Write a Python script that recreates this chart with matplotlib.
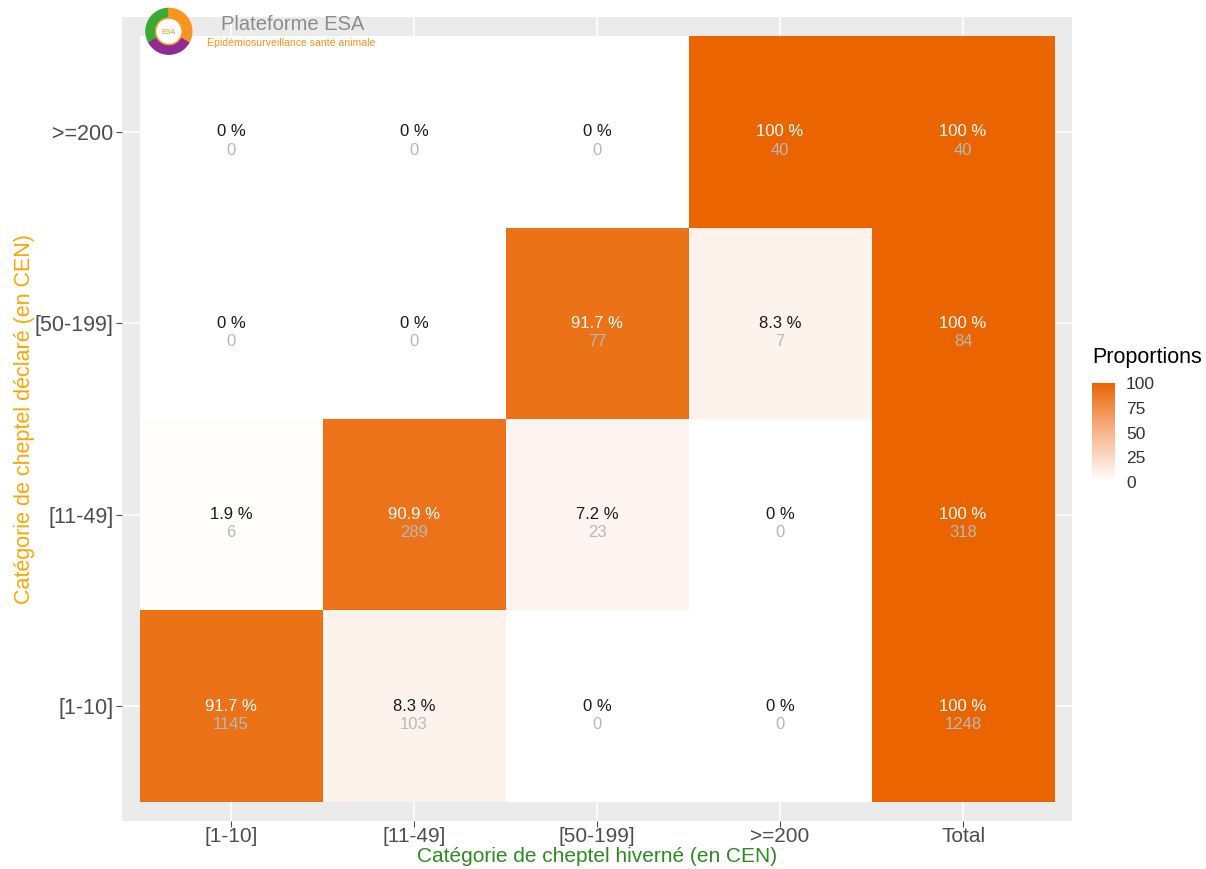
import numpy as np
import matplotlib
matplotlib.use("Agg")
import matplotlib.pyplot as plt
from matplotlib.colors import LinearSegmentedColormap
from matplotlib.patches import Rectangle, Wedge, Circle

plt.rcParams["font.family"] = ["Liberation Sans", "DejaVu Sans"]

# categories
col_labels = ["[1-10]", "[11-49]", "[50-199]", ">=200", "Total"]
row_labels = ["[1-10]", "[11-49]", "[50-199]", ">=200"]  # bottom -> top

# proportions (%) per row of declared herd
pct = [
    [91.7, 8.3, 0, 0, 100],
    [1.9, 90.9, 7.2, 0, 100],
    [0, 0, 91.7, 8.3, 100],
    [0, 0, 0, 100, 100],
]
# counts
counts = [
    [1145, 103, 0, 0, 1248],
    [6, 289, 23, 0, 318],
    [0, 0, 77, 7, 84],
    [0, 0, 0, 40, 40],
]

# dégradé blanc -> orange (approx. interpolation Lab de ggplot)
cmap = LinearSegmentedColormap.from_list(
    "esa", [(0, "#FFFFFF"), (0.5, "#F8B48E"), (1, "#EA6500")])

fig = plt.figure(figsize=(12.06, 8.69), dpi=100)
ax = fig.add_axes([0.1012, 0.0552, 0.7878, 0.9252])
ax.set_facecolor("#EBEBEB")

# grille façon ggplot
for i in range(len(col_labels)):
    ax.axvline(i + 1, color="white", lw=1.1, zorder=0)
for j in range(len(row_labels)):
    ax.axhline(j + 1, color="white", lw=1.1, zorder=0)

for j, row in enumerate(pct):
    for i, p in enumerate(row):
        ax.add_patch(Rectangle((i + 0.5, j + 0.5), 1, 1,
                               facecolor=cmap(p / 100), edgecolor="none", zorder=1))
        txt_col = "white" if p > 50 else "#1A1A1A"
        ax.text(i + 1, j + 1.0, f"{p:g} %", ha="center", va="center",
                fontsize=12, color=txt_col, zorder=3)
        ax.text(i + 1, j + 0.905, str(counts[j][i]), ha="center", va="center",
                fontsize=12, color="#B8B8B8", zorder=3)

ax.set_xlim(0.404, 5.596)
ax.set_ylim(0.4, 4.6)
ax.set_xticks(range(1, len(col_labels) + 1))
ax.set_xticklabels(col_labels)
ax.set_yticks(range(1, len(row_labels) + 1))
ax.set_yticklabels(row_labels)
ax.tick_params(length=4, width=0.8, color="#4D4D4D", labelcolor="#4D4D4D",
               labelsize=15.5, pad=2)
ax.tick_params(axis="x", labelsize=15, pad=0.5)
for s in ax.spines.values():
    s.set_visible(False)

ax.set_xlabel("Catégorie de cheptel hiverné (en CEN)", color="#2E8B22",
              fontsize=15)
ax.xaxis.set_label_coords(0.5, -0.0325)
ax.set_ylabel("Catégorie de cheptel déclaré (en CEN)", color="#FFA500",
              fontsize=15.5)
ax.yaxis.set_label_coords(-0.092, 0.5)

# légende (barre de couleur)
cax = fig.add_axes([0.9055, 0.4453, 0.019, 0.114])
grad = np.linspace(0, 100, 256).reshape(-1, 1)
cax.imshow(grad, aspect="auto", cmap=cmap, origin="lower",
           extent=[0, 1, 0, 100], vmin=0, vmax=100)
cax.set_xticks([])
cax.yaxis.tick_right()
cax.set_yticks([0, 25, 50, 75, 100])
cax.tick_params(axis="y", length=0, labelsize=12.5, labelcolor="#333333", pad=8)
for s in cax.spines.values():
    s.set_visible(False)
fig.text(0.9055, 0.576, "Proportions", fontsize=15.5, color="black",
         ha="left", va="bottom")

# logo Plateforme ESA
lax = fig.add_axes([0.12, 0.935, 0.04, 0.058])
lax.set_xlim(-1, 1)
lax.set_ylim(-1, 1)
lax.set_aspect("equal")
lax.axis("off")
lax.add_patch(Wedge((0, 0), 0.95, 90, 210, width=0.35, color="#3AAA35"))
lax.add_patch(Wedge((0, 0), 0.95, -30, 90, width=0.35, color="#F7941D"))
lax.add_patch(Wedge((0, 0), 0.95, 210, 330, width=0.35, color="#8E2C91"))
lax.add_patch(Circle((0, 0), 0.55, facecolor="white", edgecolor="#F7941D", lw=1))
lax.text(0, -0.05, "ESA", ha="center", va="center", fontsize=5, color="#F7941D")
fig.text(0.183, 0.972, "Plateforme ESA", fontsize=14.5, color="#8C8C8C",
         ha="left", va="center")
fig.text(0.172, 0.951, "Epidémiosurveillance santé animale", fontsize=7.6,
         color="#F7941D", ha="left", va="center")

fig.savefig("out.png", dpi=100, facecolor="white")
